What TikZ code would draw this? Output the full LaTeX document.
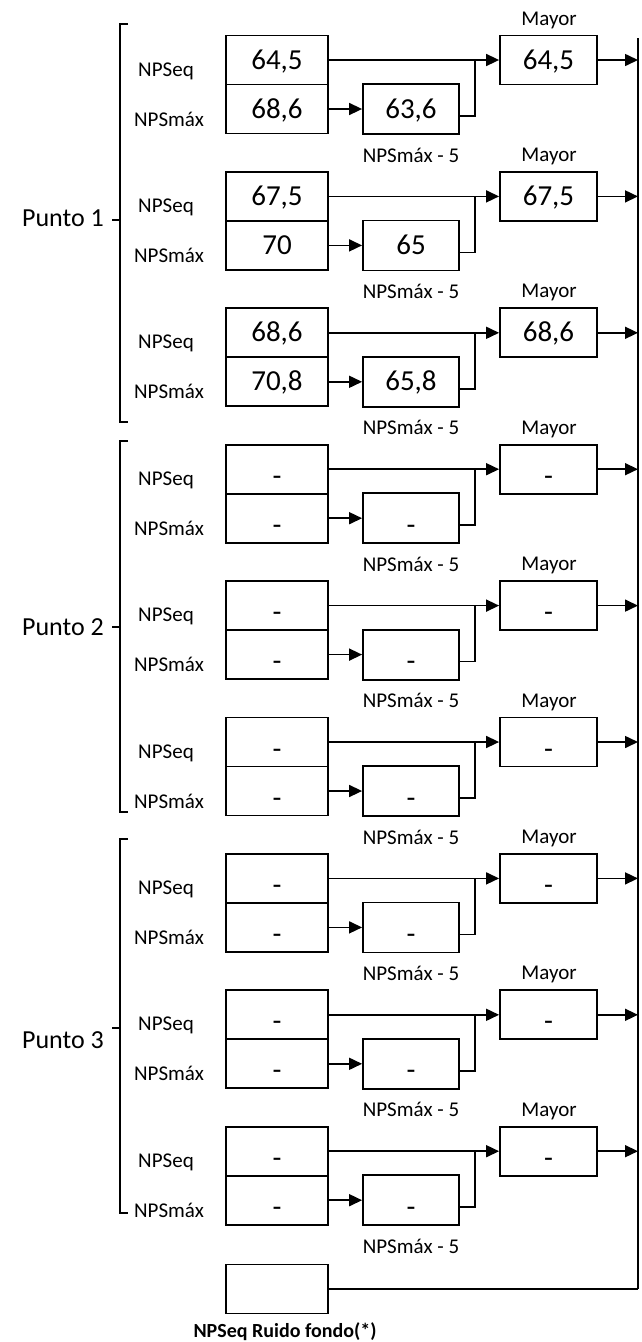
\documentclass[tikz,border=0pt]{standalone}
\usepackage{fontspec}
\setmainfont{Carlito}
\usetikzlibrary{arrows.meta, positioning}

\newcommand\guion{\raisebox{-7pt}{-}}

\tikzset{
  caja/.style={draw, line width=1.8pt, minimum width=102pt, minimum height=49pt, inner sep=0pt,
    text height=18pt, text depth=0pt, font=\fontsize{29}{32}\selectfont},
  cajared/.style={caja, minimum width=96pt, minimum height=50pt},
  cajamay/.style={caja, minimum width=97pt},
  etq/.style={inner sep=0pt, font=\fontsize{21}{24}\selectfont},
  punto/.style={inner sep=0pt, font=\fontsize{26}{29}\selectfont},
  flecha/.style={line width=1.6pt, -{Triangle[length=13pt,width=12pt]}},
  linea/.style={line width=1.6pt},
  llave/.style={line width=1.6pt}
}

\begin{document}
\begin{tikzpicture}[x=1pt, y=-1pt]
  \useasboundingbox (0,0) rectangle (641,1342);

  % columna de valores
  \foreach \k/\va/\vb/\vc/\vd in {0/{64,5}/{68,6}/{63,6}/{64,5}, 1/{67,5}/70/65/{67,5}, 2/{68,6}/{70,8}/{65,8}/{68,6},
      3/\guion/\guion/\guion/\guion, 4/\guion/\guion/\guion/\guion, 5/\guion/\guion/\guion/\guion,
      6/\guion/\guion/\guion/\guion, 7/\guion/\guion/\guion/\guion, 8/\guion/\guion/\guion/\guion} {
    \pgfmathsetmacro\fila{60+136.4*\k}
    \node[caja] (eq\k) at (277,\fila) {\va};
    \node[caja] (max\k) at (277,\fila+49) {\vb};
    \node[cajared] (red\k) at (411,\fila+49) {\vc};
    \node[cajamay] (may\k) at (548.5,\fila) {\vd};
    \node[etq] (leq\k) at (166,\fila+11) {NPSeq};
    \node[etq] (lmax\k) at (169,\fila+59) {NPSmáx};
    \node[etq] (lmay\k) at (549,\fila-40) {Mayor};
    \node[etq] (lred\k) at (411,\fila+95) {NPSmáx - 5};
    \coordinate (un\k) at (475,\fila+56);
    \coordinate (bus\k) at (638,\fila);
    \draw[flecha] (eq\k.east) -- (may\k.west);
    \draw[flecha] (max\k.east) -- (red\k.west);
    \draw[linea] (red\k.east |- un\k) -- (un\k) -- (un\k |- eq\k.east);
    \draw[flecha] (may\k.east) -- (bus\k);
  }

  % llaves de los puntos
  \foreach \n/\ya/\yb/\ym/\yt in {1/24/422/220/218, 2/441/812/627/627, 3/839/1213/1028/1040} {
    \draw[llave] (128,\ya) -- (120,\ya) -- (120,\yb) -- (128,\yb);
    \draw[llave] (120,\ym) -- (112,\ym);
    \node[punto, anchor=east] (p\n) at (104,\yt) {Punto \n};
  }

  % ruido de fondo
  \node[caja] (ruido) at (277,1289) {};
  \node[etq, font=\fontsize{20}{23}\selectfont\bfseries] (lruido) at (285,1332) {NPSeq Ruido fondo(*)};
  \coordinate (bustop) at (638,38);
  \coordinate (busfin) at (638,1289);
  \draw[linea] (bustop) -- (busfin);
  \draw[linea] (ruido.east) -- (busfin);
\end{tikzpicture}
\end{document}
